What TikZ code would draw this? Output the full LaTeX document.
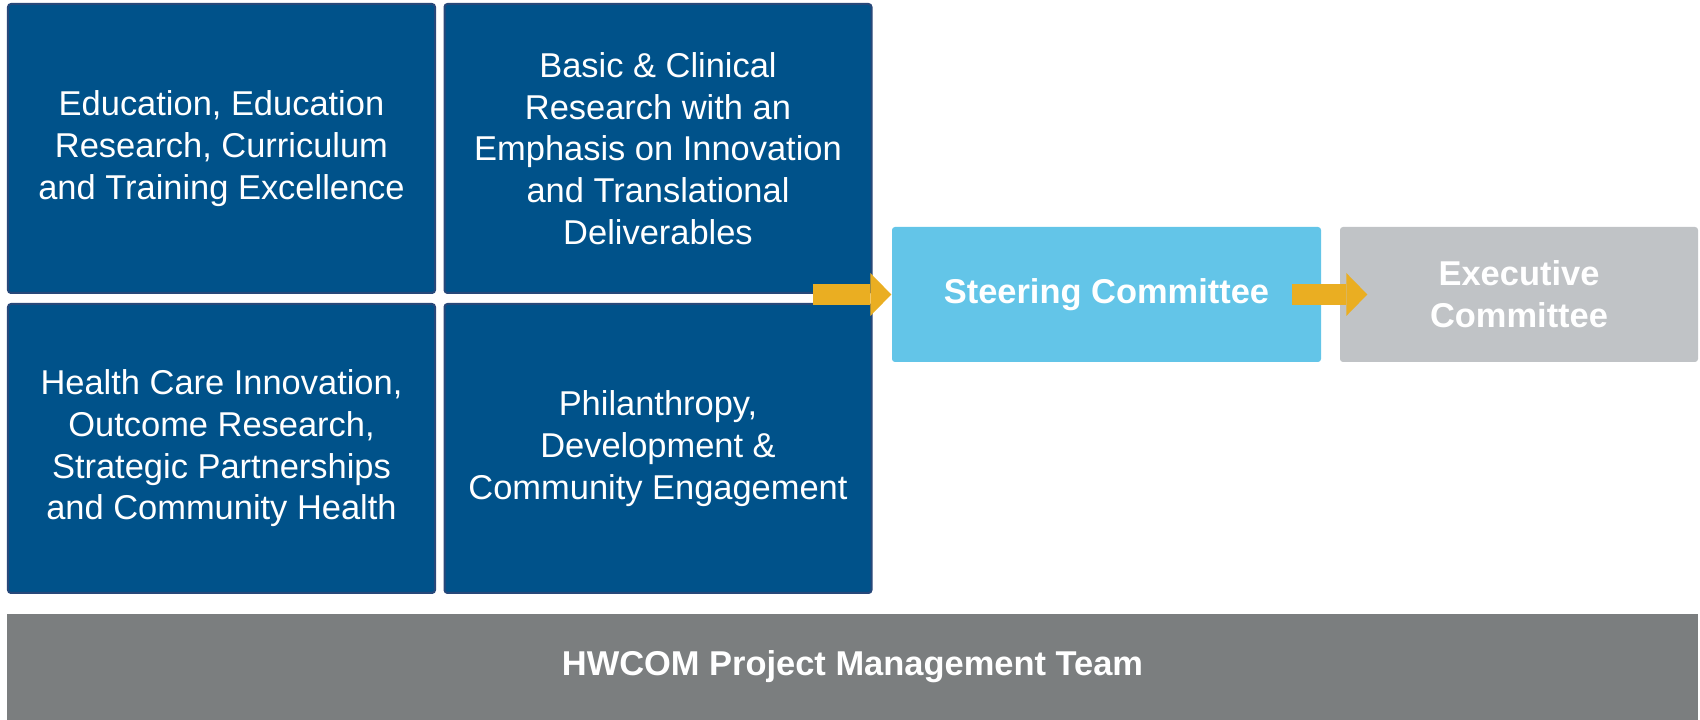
\documentclass[tikz,border=0pt]{standalone}
\usepackage{fontspec}
\setmainfont{Liberation Sans}
\usetikzlibrary{arrows.meta}
\definecolor{areablue}{HTML}{00528A}
\definecolor{areaedge}{HTML}{27487A}
\definecolor{steerblue}{HTML}{63C5E8}
\definecolor{execgrey}{HTML}{C0C3C6}
\definecolor{teamgrey}{HTML}{7B7E7F}
\definecolor{flowgold}{HTML}{EAAE22}
\begin{document}
\begin{tikzpicture}[
  area/.style={rectangle, rounded corners=0.03cm, draw=areaedge, line width=0.02cm, fill=areablue, text=white, align=center, minimum width=4.27cm, minimum height=2.89cm, inner sep=0pt, font=\fontsize{9.8}{11.85}\selectfont},
  committee/.style={rectangle, rounded corners=0.03cm, text=white, align=center, minimum height=1.35cm, inner sep=0pt, font=\fontsize{9.8}{11.85}\selectfont\bfseries},
  flow/.style={-{Triangle[length=0.21cm, width=0.43cm, line width=0pt]}, line width=0.21cm, flowgold}
]
\useasboundingbox (0,0) rectangle (17,-7.2);

% Strategic areas
\node[area] (edu) at (2.215,-1.485) {Education, Education\\Research, Curriculum\\and Training Excellence};
\node[area] (res) at (6.58,-1.485) {Basic \& Clinical\\Research with an\\Emphasis on Innovation\\and Translational\\Deliverables};
\node[area] (hlt) at (2.215,-4.485) {Health Care Innovation,\\Outcome Research,\\Strategic Partnerships\\and Community Health};
\node[area] (phl) at (6.58,-4.485) {Philanthropy,\\Development \&\\Community Engagement};

% Committees
\node[committee, fill=steerblue, minimum width=4.29cm] (steer) at (11.065,-2.945) {Steering Committee};
\node[committee, fill=execgrey, minimum width=3.58cm] (exec) at (15.19,-2.945) {Executive\\Committee};

% Team bar
\node[committee, fill=teamgrey, rounded corners=0pt, minimum width=16.91cm, minimum height=1.06cm] (team) at (8.525,-6.67) {HWCOM Project Management Team};

% Flow arrows
\draw[flow] ([xshift=-0.78cm]steer.west) -- (steer.west);
\draw[flow] ([xshift=-0.30cm]steer.east) -- ([xshift=0.28cm]exec.west);
\end{tikzpicture}
\end{document}
